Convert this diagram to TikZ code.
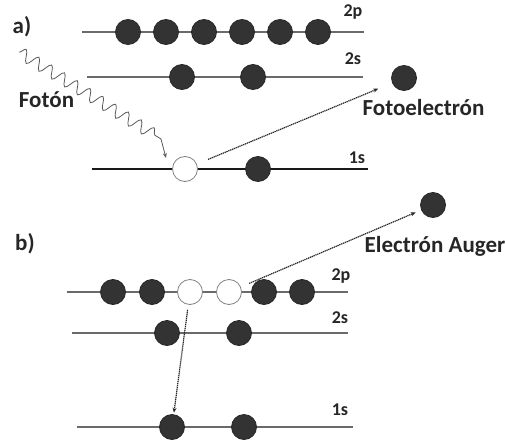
\documentclass[tikz,border=0pt]{standalone}
\usepackage{fontspec}
\setmainfont{Carlito}
\usetikzlibrary{arrows.meta,decorations.pathmorphing}
\definecolor{efill}{HTML}{333333}
\definecolor{lvl}{HTML}{6A6A6A}
\tikzset{
  el/.style={circle,minimum size=25pt,inner sep=0pt,draw=black!85,line width=0.8pt,fill=efill},
  hole/.style={circle,minimum size=25pt,inner sep=0pt,draw=black!50,line width=0.8pt,fill=white},
  level/.style={draw=lvl,line width=1.8pt},
  lvltxt/.style={font=\bfseries\fontsize{18}{18}\selectfont,inner sep=0pt,anchor=base,text=black!85},
  lbl/.style={font=\bfseries\fontsize{23}{23}\selectfont,inner sep=0pt,anchor=base,text=black!85},
  jump/.style={draw=black!85,line width=1.2pt,dash pattern=on 1.3pt off 0.7pt,-{Stealth[length=5pt,width=4pt]}},
  photon/.style={draw=black!65,line width=0.8pt,decorate,decoration={snake,segment length=15pt,amplitude=6pt}}
}
\begin{document}
\begin{tikzpicture}[x=1pt,y=-1pt]
\useasboundingbox (0,0) rectangle (505,441);
% ---------- panel a ----------
\node[lbl] (la) at (22,34) {a)};
\coordinate (a2pL) at (82,32); \coordinate (a2pR) at (364,32);
\coordinate (a2sL) at (87,77); \coordinate (a2sR) at (363,77);
\coordinate (a1sL) at (92,169); \coordinate (a1sR) at (368,169);
\draw[level] (a2pL) -- (a2pR);
\draw[level,line width=1.3pt] (a2sL) -- (a2sR);
\draw[level,draw=black!90] (a1sL) -- (a1sR);
\node[lvltxt] (ta2p) at (353,17) {2p};
\node[lvltxt] (ta2s) at (353,65) {2s};
\node[lvltxt] (ta1s) at (357,163) {1s};
\foreach \i/\x in {1/128,2/166,3/204,4/242,5/280,6/318}{\node[el] (ap\i) at (\x,32) {};}
\node[el] (as1) at (182,77) {};
\node[el] (as2) at (253,77) {};
\node[hole] (a1h) at (185,169) {};
\node[el] (a1e) at (258,169) {};
\node[el] (fe) at (404,78) {};
\node[lbl] (tfe) at (423.5,115) {Fotoelectrón};
\node[lbl] (tfo) at (46.5,107) {Fotón};
\coordinate (ph0) at (19,52);
\coordinate (ph1) at (161,139);
\coordinate (ph2) at (166,158);
\draw[photon] (ph0) -- (ph1);
\draw[draw=black!65,line width=0.8pt,-{Stealth[length=5pt,width=4pt]}] (ph1) -- (ph2);
\draw[jump,shorten <=12pt,shorten >=15pt] (a1h) -- (fe);
% ---------- panel b ----------
\node[lbl] (lb) at (25,250) {b)};
\coordinate (b2pL) at (67,292); \coordinate (b2pR) at (348,292);
\coordinate (b2sL) at (72,333); \coordinate (b2sR) at (348,333);
\coordinate (b1sL) at (77,427); \coordinate (b1sR) at (353,427);
\draw[level] (b2pL) -- (b2pR);
\draw[level] (b2sL) -- (b2sR);
\draw[level] (b1sL) -- (b1sR);
\node[lvltxt] (tb2p) at (341,280) {2p};
\node[lvltxt] (tb2s) at (340,323) {2s};
\node[lvltxt] (tb1s) at (340,415) {1s};
\node[el] (bp1) at (113,292) {};
\node[el] (bp2) at (152,292) {};
\node[hole] (bp3) at (190,292) {};
\node[hole] (bp4) at (229,292) {};
\node[el] (bp5) at (264,292) {};
\node[el] (bp6) at (302,292) {};
\node[el] (bs1) at (167,333) {};
\node[el] (bs2) at (239,333) {};
\node[el] (b1e1) at (172,427) {};
\node[el] (b1e2) at (244,427) {};
\node[el] (ae) at (433,205) {};
\node[lbl] (tae) at (435,252) {Electrón Auger};
\draw[jump,shorten <=9pt,shorten >=6pt] (bp4) -- (ae);
\draw[jump,shorten <=5pt,shorten >=1.5pt] (bp3) -- (b1e1);
\end{tikzpicture}
\end{document}
